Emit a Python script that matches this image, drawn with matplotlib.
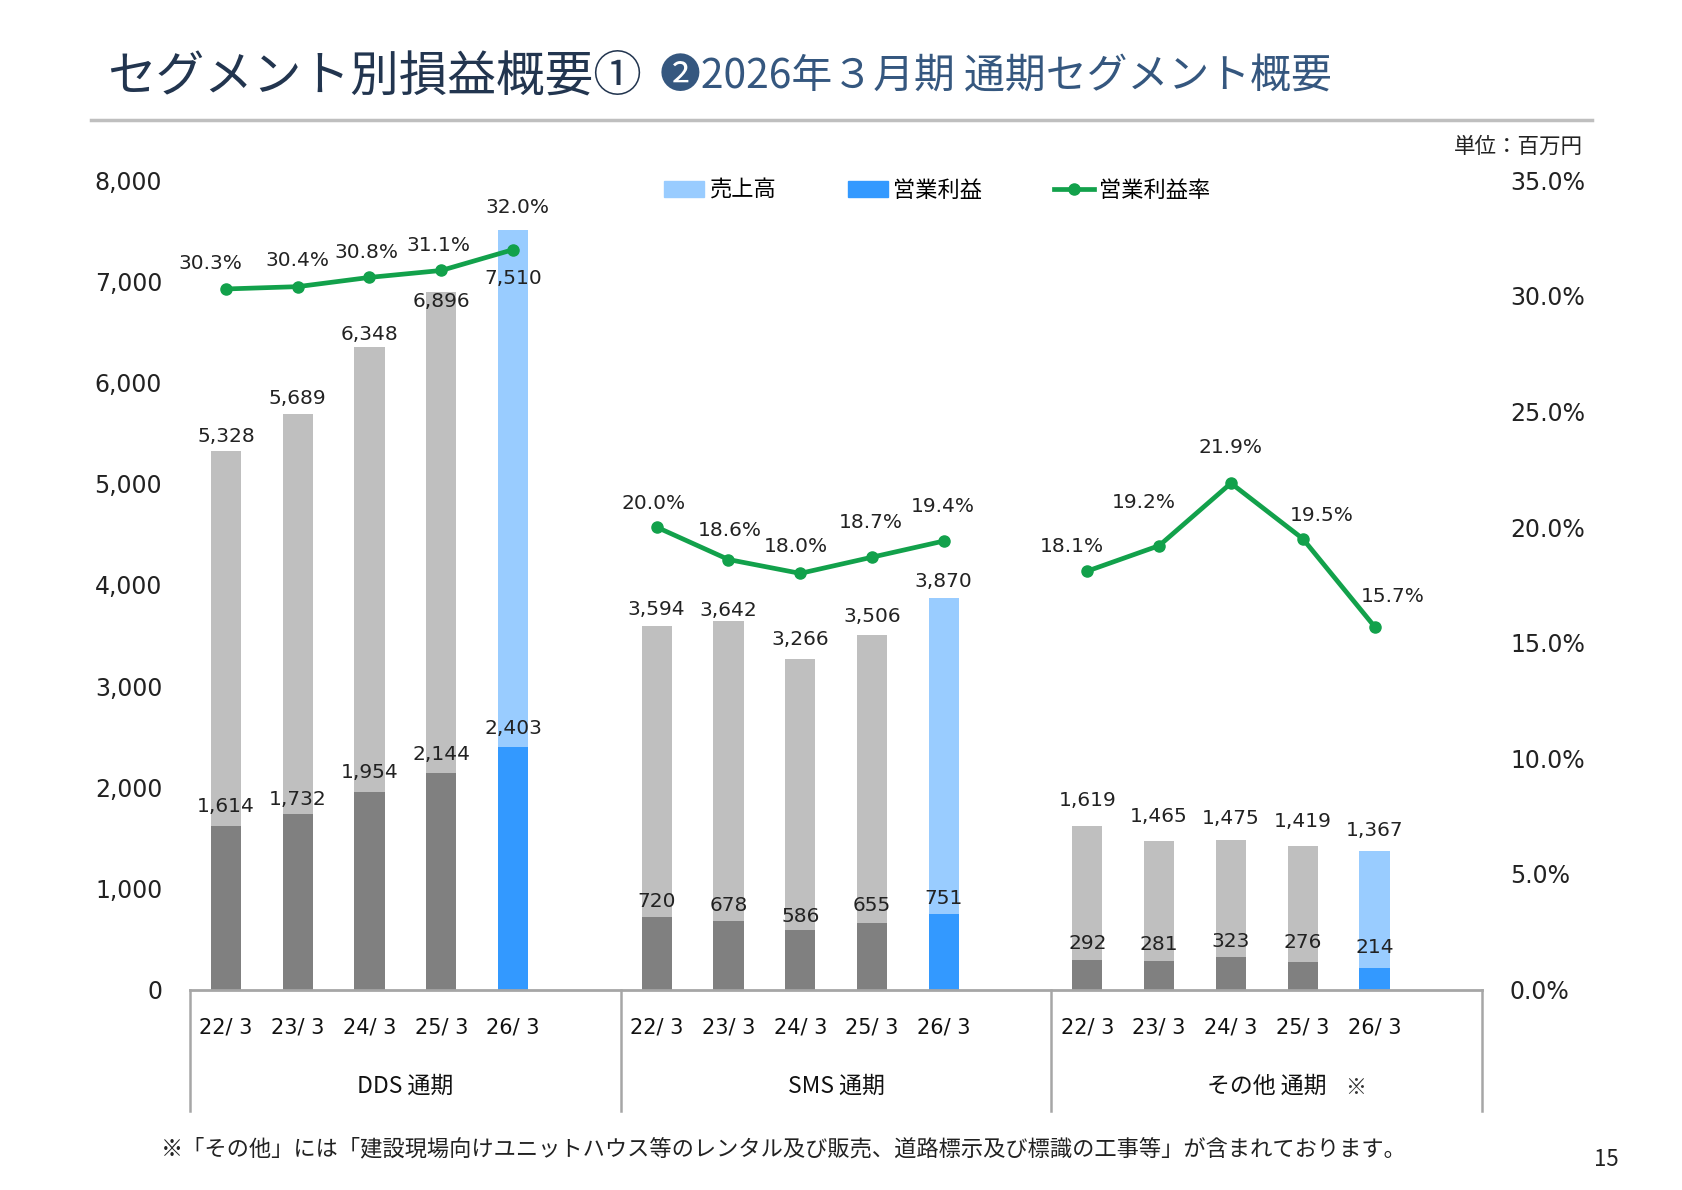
import numpy as np
import matplotlib.pyplot as plt
from matplotlib.patches import Patch
from matplotlib.lines import Line2D

plt.rcParams['font.family'] = ['Noto Sans CJK JP', 'DejaVu Sans']

periods = ['22/ 3', '23/ 3', '24/ 3', '25/ 3', '26/ 3']
segments = ['DDS 通期', 'SMS 通期', 'その他 通期']

dds_sales = [5328, 5689, 6348, 6896, 7510]
dds_profit = [1614, 1732, 1954, 2144, 2403]
dds_margin = [30.3, 30.4, 30.8, 31.1, 32.0]
sms_sales = [3594, 3642, 3266, 3506, 3870]
sms_profit = [720, 678, 586, 655, 751]
sms_margin = [20.0, 18.6, 18.0, 18.7, 19.4]
other_sales = [1619, 1465, 1475, 1419, 1367]
other_profit = [292, 281, 323, 276, 214]
other_margin = [18.1, 19.2, 21.9, 19.5, 15.7]

sales = [dds_sales, sms_sales, other_sales]
profit = [dds_profit, sms_profit, other_profit]
margin = [dds_margin, sms_margin, other_margin]

# label offsets in points (label placement only)
sales_dy = [[10, 11, 9, -7, -35], [12, 8, 14, 13, 12], [18, 18, 16, 18, 15]]
profit_dy = [[14, 11, 14, 13, 13], [11, 11, 10, 13, 11], [12, 12, 11, 14, 15]]
pct_dx = [[-11, 0, -2, -2, 3], [-2, 1, -3, -1, -1], [-11, -11, 0, 14, 13]]
pct_dy = [[18, 19, 18, 18, 30], [17, 21, 19, 25, 25], [18, 31, 26, 17, 22]]

c_sales = '#BFBFBF'
c_profit = '#808080'
c_sales_hl = '#99CCFF'
c_profit_hl = '#3399FF'
c_line = '#12A14B'
num_font = 'DejaVu Sans'

fig = plt.figure(figsize=(16.83, 11.90), dpi=100)
ax = fig.add_axes([0.1129, 0.1684, 0.7678, 0.6801])
ax2 = ax.twinx()

slots = 6
bw = 0.42
for g in range(3):
    x = g * slots + np.arange(5) + 0.5
    sc = [c_sales] * 4 + [c_sales_hl]
    pc = [c_profit] * 4 + [c_profit_hl]
    ax.bar(x, sales[g], width=bw, color=sc, zorder=2)
    ax.bar(x, profit[g], width=bw, color=pc, zorder=3)
    for i in range(5):
        ax.annotate(f'{sales[g][i]:,}', (x[i], sales[g][i]), xytext=(0, sales_dy[g][i]),
                    textcoords='offset points', ha='center', va='center', fontsize=14.5,
                    family=num_font, color='#222222', zorder=5)
        ax.annotate(f'{profit[g][i]:,}', (x[i], profit[g][i]), xytext=(0, profit_dy[g][i]),
                    textcoords='offset points', ha='center', va='center', fontsize=14.5,
                    family=num_font, color='#222222', zorder=5)
    ax2.plot(x, margin[g], color=c_line, lw=3.4, marker='o', ms=8, zorder=4)
    for i in range(5):
        ax2.annotate(f'{margin[g][i]:.1f}%', (x[i], margin[g][i]),
                     xytext=(pct_dx[g][i], pct_dy[g][i]), textcoords='offset points',
                     ha='center', va='center', fontsize=14.5, family=num_font,
                     color='#222222')

ax.set_xlim(0, 18)
ax.set_ylim(0, 8000)
ax2.set_ylim(0, 35)
ax.set_yticks(np.arange(0, 8001, 1000))
ax.set_yticklabels([f'{v:,}' for v in range(0, 8001, 1000)], family=num_font)
ax2.set_yticks(np.arange(0, 35.1, 5))
ax2.set_yticklabels([f'{v:.1f}%' for v in np.arange(0, 35.1, 5)], family=num_font)
ax.tick_params(axis='y', length=0, labelsize=17, pad=20, labelcolor='#222222')
ax2.tick_params(axis='y', length=0, labelsize=17, pad=20, labelcolor='#222222')

xt = [g * slots + i + 0.5 for g in range(3) for i in range(5)]
ax.set_xticks(xt)
ax.set_xticklabels(periods * 3, family=num_font)
ax.tick_params(axis='x', length=0, labelsize=15, pad=20, labelcolor='#111111')

for a in (ax, ax2):
    for s in ('top', 'left', 'right', 'bottom'):
        a.spines[s].set_visible(False)
ax.axhline(0, color='#A6A6A6', lw=2, zorder=6, clip_on=False)

for g in range(4):
    ax.plot([g * slots, g * slots], [0, -0.15], transform=ax.get_xaxis_transform(),
            color='#A6A6A6', lw=1.8, clip_on=False)
for g in range(3):
    ax.text(g * slots + 3, -0.119, segments[g], transform=ax.get_xaxis_transform(),
            ha='center', va='center', fontsize=16.5, color='#111111')
ax.text(2 * slots + 4.23, -0.122, '※', transform=ax.get_xaxis_transform(),
        ha='center', va='center', fontsize=15, color='#333333')

handles = [Patch(color=c_sales_hl), Patch(color=c_profit_hl),
           Line2D([], [], color=c_line, lw=3.4, marker='o', ms=8)]
fig.legend(handles, ['売上高', '営業利益', '営業利益率'], loc='center',
           bbox_to_anchor=(0.557, 0.84), ncol=3, frameon=False, fontsize=16,
           handlelength=1.8, handleheight=0.7, handletextpad=0.25, columnspacing=3.2)

fig.text(0.0636, 0.9355, 'セグメント別損益概要①', fontsize=35, color='#22354F', va='center')
fig.text(0.392, 0.9355, '❷2026年３月期 通期セグメント概要', fontsize=29.4, color='#35577F',
         va='center')
fig.add_artist(Line2D([0.054, 0.946], [0.899, 0.899], color='#BFBFBF', lw=2.5))
fig.text(0.9405, 0.877, '単位：百万円', fontsize=15.5, color='#222222', ha='right', va='center')
fig.text(0.0957, 0.035, '※「その他」には「建設現場向けユニットハウス等のレンタル及び販売、道路標示及び標識の工事等」が含まれております。',
         fontsize=16, color='#222222', va='center')
fig.text(0.962, 0.026, '15', fontsize=16, color='#222222', ha='right', va='center')

fig.savefig('out.png', dpi=100)
